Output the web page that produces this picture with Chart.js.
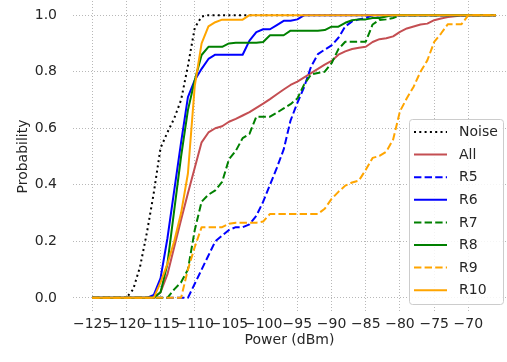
<!DOCTYPE html>
<html>
<head>
<meta charset="utf-8">
<script src="https://cdn.jsdelivr.net/npm/chart.js@4/dist/chart.umd.min.js"></script>
<style>
  html, body { margin: 0; padding: 0; background: #ffffff; }
  #wrap { width: 507px; height: 362px; }
</style>
</head>
<body>
<div id="wrap"><canvas id="chart" width="507" height="362"></canvas></div>
<script>
// Received power (dBm), one sample per dB
const power = [
  -125, -124, -123, -122, -121, -120, -119, -118, -117, -116,
  -115, -114, -113, -112, -111, -110, -109, -108, -107, -106,
  -105, -104, -103, -102, -101, -100, -99, -98, -97, -96,
  -95, -94, -93, -92, -91, -90, -89, -88, -87, -86,
  -85, -84, -83, -82, -81, -80, -79, -78, -77, -76,
  -75, -74, -73, -72, -71, -70, -69, -68, -67, -66
];

// Cumulative probability per series
const noise = [
  0, 0, 0, 0, 0, 0, 0.03, 0.11, 0.23, 0.37,
  0.53, 0.585, 0.635, 0.70, 0.82, 0.955, 0.995, 1, 1, 1,
  1, 1, 1, 1, 1, 1, 1, 1, 1, 1,
  1, 1, 1, 1, 1, 1, 1, 1, 1, 1,
  1, 1, 1, 1, 1, 1, 1, 1, 1, 1,
  1, 1, 1, 1, 1, 1, 1, 1, 1, 1
];
const all = [
  0, 0, 0, 0, 0, 0, 0, 0, 0, 0,
  0.02, 0.083, 0.18, 0.276, 0.37, 0.46, 0.55, 0.585, 0.60, 0.607,
  0.623, 0.633, 0.645, 0.657, 0.672, 0.687, 0.703, 0.72, 0.737, 0.753,
  0.765, 0.78, 0.795, 0.81, 0.825, 0.838, 0.86, 0.872, 0.88, 0.885,
  0.888, 0.905, 0.915, 0.918, 0.925, 0.941, 0.953, 0.96, 0.967, 0.97,
  0.982, 0.988, 0.993, 0.996, 0.999, 1, 1, 1, 1, 1
];
const r5 = [
  0, 0, 0, 0, 0, 0, 0, 0, 0, 0,
  0, 0, 0, 0, 0, 0.05, 0.10, 0.15, 0.20, 0.22,
  0.24, 0.25, 0.25, 0.26, 0.29, 0.34, 0.40, 0.46, 0.525, 0.627,
  0.69, 0.746, 0.818, 0.862, 0.878, 0.893, 0.92, 0.96, 0.978, 0.985,
  0.99, 1, 1, 1, 1, 1, 1, 1, 1, 1,
  1, 1, 1, 1, 1, 1, 1, 1, 1, 1
];
const r6 = [
  0, 0, 0, 0, 0, 0, 0, 0, 0, 0.01,
  0.07, 0.21, 0.38, 0.55, 0.71, 0.77, 0.81, 0.845, 0.86, 0.86,
  0.86, 0.86, 0.86, 0.91, 0.94, 0.95, 0.95, 0.965, 0.98, 0.98,
  0.985, 1, 1, 1, 1, 1, 1, 1, 1, 1,
  1, 1, 1, 1, 1, 1, 1, 1, 1, 1,
  1, 1, 1, 1, 1, 1, 1, 1, 1, 1
];
const r7 = [
  0, 0, 0, 0, 0, 0, 0, 0, 0, 0,
  0, 0, 0.03, 0.055, 0.10, 0.24, 0.34, 0.365, 0.38, 0.41,
  0.49, 0.52, 0.565, 0.58, 0.641, 0.641, 0.641, 0.655, 0.67, 0.685,
  0.705, 0.755, 0.79, 0.795, 0.80, 0.83, 0.88, 0.906, 0.906, 0.906,
  0.906, 0.967, 0.983, 0.985, 0.99, 1, 1, 1, 1, 1,
  1, 1, 1, 1, 1, 1, 1, 1, 1, 1
];
const r8 = [
  0, 0, 0, 0, 0, 0, 0, 0, 0, 0,
  0.02, 0.12, 0.31, 0.50, 0.664, 0.77, 0.859, 0.888, 0.888, 0.888,
  0.90, 0.902, 0.902, 0.902, 0.902, 0.905, 0.929, 0.929, 0.929, 0.945,
  0.945, 0.945, 0.945, 0.945, 0.947, 0.959, 0.959, 0.973, 0.982, 0.985,
  0.985, 0.99, 0.99, 0.995, 1, 1, 1, 1, 1, 1,
  1, 1, 1, 1, 1, 1, 1, 1, 1, 1
];
const r9 = [
  0, 0, 0, 0, 0, 0, 0, 0, 0, 0,
  0, 0, 0, 0, 0.10, 0.18, 0.25, 0.25, 0.25, 0.25,
  0.262, 0.266, 0.266, 0.266, 0.266, 0.27, 0.297, 0.297, 0.297, 0.297,
  0.297, 0.297, 0.297, 0.297, 0.315, 0.35, 0.375, 0.397, 0.408, 0.415,
  0.453, 0.495, 0.502, 0.517, 0.56, 0.66, 0.706, 0.747, 0.80, 0.84,
  0.905, 0.935, 0.968, 0.968, 0.968, 1, 1, 1, 1, 1
];
const r10 = [
  0, 0, 0, 0, 0, 0, 0, 0, 0, 0,
  0.055, 0.12, 0.20, 0.30, 0.44, 0.75, 0.90, 0.96, 0.975, 0.984,
  0.984, 0.984, 0.984, 1, 1, 1, 1, 1, 1, 1,
  1, 1, 1, 1, 1, 1, 1, 1, 1, 1,
  1, 1, 1, 1, 1, 1, 1, 1, 1, 1,
  1, 1, 1, 1, 1, 1, 1, 1, 1, 1
];

const xTicks = [-125, -120, -115, -110, -105, -100, -95, -90, -85, -80, -75, -70];
const yTicks = [0, 0.2, 0.4, 0.6, 0.8, 1.0];

const FONT = 'DejaVu Sans';
const TEXT = '#262626';
const DOT = [2, 3.3];
const DASH = [7.4, 3.2];

const series = [
  { label: 'Noise', values: noise, color: '#000000', dash: DOT },
  { label: 'All',   values: all,   color: '#c44e52', dash: [] },
  { label: 'R5',    values: r5,    color: '#0000ff', dash: DASH },
  { label: 'R6',    values: r6,    color: '#0000ff', dash: [] },
  { label: 'R7',    values: r7,    color: '#008000', dash: DASH },
  { label: 'R8',    values: r8,    color: '#008000', dash: [] },
  { label: 'R9',    values: r9,    color: '#ffa500', dash: DASH },
  { label: 'R10',   values: r10,   color: '#ffa500', dash: [] }
];

const datasets = series.map((s, i) => ({
  label: s.label,
  data: power.map((p, k) => ({ x: p, y: s.values[k] })),
  borderColor: s.color,
  backgroundColor: s.color,
  borderDash: s.dash,
  borderWidth: 2,
  borderCapStyle: 'butt',
  borderJoinStyle: 'round',
  pointRadius: 0,
  tension: 0,
  fill: false,
  order: series.length - i   // later series are painted on top
}));

// Legend drawn inside the plot, lower right
const cornerLegend = {
  id: 'cornerLegend',
  afterDraw(chart) {
    const ctx = chart.ctx;
    const x0 = 409.5, y0 = 119.5, w = 94, h = 185;
    ctx.save();
    ctx.beginPath();
    ctx.roundRect(x0, y0, w, h, 3);
    ctx.fillStyle = 'rgba(255,255,255,0.85)';
    ctx.fill();
    ctx.strokeStyle = '#cccccc';
    ctx.lineWidth = 1;
    ctx.stroke();
    ctx.font = '14px "' + FONT + '"';
    ctx.textBaseline = 'middle';
    ctx.textAlign = 'left';
    chart.data.datasets.forEach((ds, i) => {
      const y = 132 + i * 22.6;
      ctx.beginPath();
      ctx.setLineDash(ds.borderDash || []);
      ctx.strokeStyle = ds.borderColor;
      ctx.lineWidth = 2;
      ctx.lineCap = 'butt';
      ctx.moveTo(414, y);
      ctx.lineTo(447, y);
      ctx.stroke();
      ctx.setLineDash([]);
      ctx.fillStyle = TEXT;
      ctx.fillText(ds.label, 459, y + 0.5);
    });
    ctx.restore();
  }
};

new Chart(document.getElementById('chart'), {
  type: 'line',
  data: { datasets },
  plugins: [cornerLegend],
  options: {
    responsive: false,
    animation: false,
    devicePixelRatio: 1,
    layout: { padding: { top: 1, right: 1, left: 0, bottom: 0 } },
    plugins: {
      legend: { display: false },
      tooltip: { enabled: false }
    },
    scales: {
      x: {
        type: 'linear',
        min: -127.8,
        max: -64.5,
        afterBuildTicks: (s) => { s.ticks = xTicks.map(v => ({ value: v })); },
        afterFit: (s) => { s.height = 50; },
        ticks: {
          autoSkip: false,
          maxRotation: 0,
          minRotation: 0,
          padding: 4,
          color: TEXT,
          font: { family: FONT, size: 14 },
          callback: (v) => (v < 0 ? '\u2212' : '') + Math.abs(v)
        },
        grid: { color: '#b8b8b8', lineWidth: 1, drawTicks: false },
        border: { display: false, dash: [1, 2] },
        title: {
          display: true,
          text: 'Power (dBm)',
          color: TEXT,
          font: { family: FONT, size: 14 },
          padding: { top: 0, bottom: 13.6 }
        }
      },
      y: {
        type: 'linear',
        min: -0.05,
        max: 1.05,
        afterBuildTicks: (s) => { s.ticks = yTicks.map(v => ({ value: v })); },
        afterFit: (s) => { s.width = 73; s.paddingTop = 0; s.paddingBottom = 0; },
        ticks: {
          padding: 16,
          color: TEXT,
          font: { family: FONT, size: 14 },
          callback: (v) => v.toFixed(1)
        },
        grid: { color: '#b8b8b8', lineWidth: 1, drawTicks: false },
        border: { display: false, dash: [1, 2] },
        title: {
          display: true,
          text: 'Probability',
          color: TEXT,
          font: { family: FONT, size: 14 },
          padding: { top: 14.6, bottom: 0 }
        }
      }
    }
  }
});
</script>
</body>
</html>
